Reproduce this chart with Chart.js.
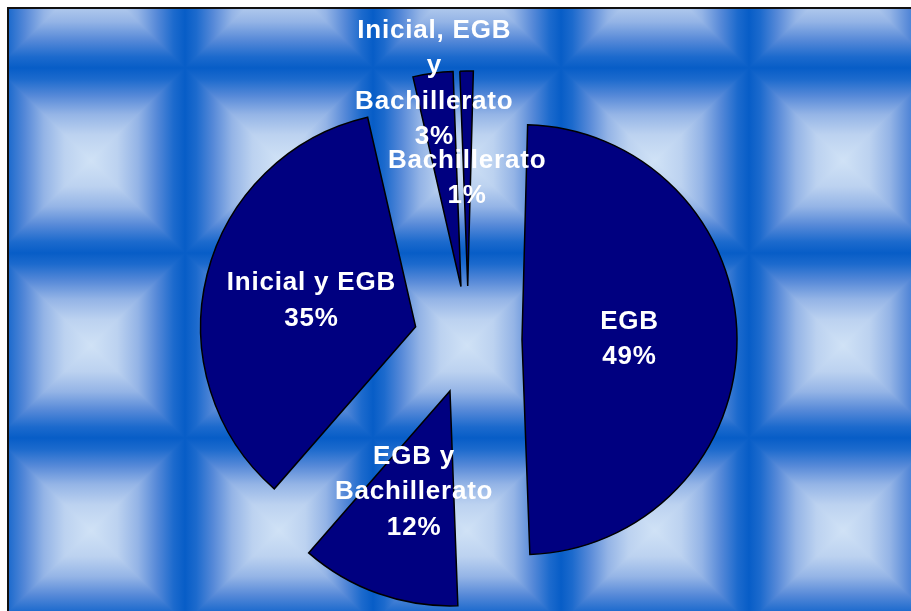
<!DOCTYPE html>
<html>
<head>
<meta charset="utf-8">
<script src="https://cdn.jsdelivr.net/npm/chart.js@4.4.1/dist/chart.umd.min.js"></script>
<style>
  html, body { margin: 0; padding: 0; background: #fff; overflow: hidden; }
  canvas { display: block; }
</style>
</head>
<body>
<canvas id="pie-chart" width="911" height="611"></canvas>
<script>
var categories = ['EGB', 'EGB y Bachillerato', 'Inicial y EGB', 'Inicial, EGB y Bachillerato', 'Bachillerato'];
var shares = [49, 12, 35, 3, 1];
// line breaks used for each category inside its label
var labelLines = [
    ['EGB'],
    ['EGB y', 'Bachillerato'],
    ['Inicial y EGB'],
    ['Inicial, EGB', 'y', 'Bachillerato'],
    ['Bachillerato']
];

var PIE_RADIUS = 215;
var EXPLODE = 54;         // how far every slice is pulled out of the centre
var LINE_HEIGHT = 35.5;
var TILE_W = 188, TILE_H = 185;
// label distance from the slice tip, as a fraction of the radius
var labelDistance = [0.5, 0.5, 0.5, 0.95, 0.5];

var tileStops = [
    [0, '#075dc7'],
    [0.12, '#1c6acd'],
    [0.3, '#5689d8'],
    [0.5, '#94b4e6'],
    [0.72, '#bcd2f0'],
    [1, '#d0e2f6']
];

function tileGradient(ctx, x1, y1, x2, y2) {
    var g = ctx.createLinearGradient(x1, y1, x2, y2);
    tileStops.forEach(function (st) { g.addColorStop(st[0], st[1]); });
    return g;
}

function drawTile(ctx, x0, y0, w, h) {
    var cx = x0 + w / 2, cy = y0 + h / 2;
    // left and right halves first, whole tile
    ctx.fillStyle = tileGradient(ctx, x0, cy, cx, cy);
    ctx.fillRect(x0, y0, w / 2 + 0.5, h);
    ctx.fillStyle = tileGradient(ctx, x0 + w, cy, cx, cy);
    ctx.fillRect(cx, y0, w / 2, h);
    // then the top and bottom triangles over them
    ctx.fillStyle = tileGradient(ctx, cx, y0, cx, cy);
    ctx.beginPath();
    ctx.moveTo(x0, y0);
    ctx.lineTo(x0 + w, y0);
    ctx.lineTo(cx, cy);
    ctx.closePath();
    ctx.fill();
    ctx.fillStyle = tileGradient(ctx, cx, y0 + h, cx, cy);
    ctx.beginPath();
    ctx.moveTo(x0, y0 + h);
    ctx.lineTo(x0 + w, y0 + h);
    ctx.lineTo(cx, cy);
    ctx.closePath();
    ctx.fill();
}

// bevelled blue tiles behind the pie, with the frame line
var tileBackground = {
    id: 'tileBackground',
    beforeDraw: function (chart) {
        var ctx = chart.ctx;
        var left = 9, top = 9, right = chart.width, bottom = chart.height;
        ctx.save();
        ctx.beginPath();
        ctx.rect(left, top, right - left, bottom - top);
        ctx.clip();
        for (var x0 = -3; x0 < right; x0 += TILE_W) {
            for (var y0 = -117; y0 < bottom; y0 += TILE_H) {
                drawTile(ctx, x0, y0, TILE_W, TILE_H);
            }
        }
        ctx.restore();

        ctx.save();
        ctx.strokeStyle = '#111';
        ctx.lineWidth = 2;
        ctx.beginPath();
        ctx.moveTo(8, bottom);
        ctx.lineTo(8, 8);
        ctx.lineTo(right, 8);
        ctx.stroke();
        ctx.restore();
    }
};

// draw each arc pulled outward along its middle angle (exploded pie)
var explodedSlices = {
    id: 'explodedSlices',
    beforeDatasetDraw: function (chart, args) {
        var ctx = chart.ctx;
        args.meta.data.forEach(function (arc) {
            var mid = (arc.startAngle + arc.endAngle) / 2;
            ctx.save();
            ctx.translate(Math.cos(mid) * EXPLODE, Math.sin(mid) * EXPLODE);
            arc.draw(ctx);
            ctx.restore();
        });
        return false;
    }
};

var sliceLabels = {
    id: 'sliceLabels',
    afterDatasetsDraw: function (chart) {
        var ctx = chart.ctx;
        var meta = chart.getDatasetMeta(0);
        var total = shares.reduce(function (a, b) { return a + b; }, 0);
        ctx.save();
        ctx.fillStyle = '#ffffff';
        ctx.font = 'bold 26px "Liberation Sans", Arial, sans-serif';
        ctx.letterSpacing = '0.8px';
        ctx.textAlign = 'center';
        ctx.textBaseline = 'middle';
        meta.data.forEach(function (arc, i) {
            var mid = (arc.startAngle + arc.endAngle) / 2;
            var dist = EXPLODE + PIE_RADIUS * labelDistance[i];
            var x = arc.x + Math.cos(mid) * dist;
            var y = arc.y + Math.sin(mid) * dist;
            var lines = labelLines[i].concat([Math.round(shares[i] / total * 100) + '%']);
            lines.forEach(function (line, j) {
                ctx.fillText(line, x, y + (j - (lines.length - 1) / 2) * LINE_HEIGHT);
            });
        });
        ctx.restore();
    }
};

new Chart(document.getElementById('pie-chart'), {
    type: 'pie',
    data: {
        labels: categories,
        datasets: [{
            data: shares,
            backgroundColor: '#000080',
            borderColor: '#000000',
            borderWidth: 1.5,
            borderJoinStyle: 'miter',
            offset: 0,
            hoverOffset: 0
        }]
    },
    options: {
        responsive: false,
        animation: false,
        rotation: 1.5,
        radius: PIE_RADIUS,
        layout: { padding: { left: 25, top: 69, right: 0, bottom: 0 } },
        plugins: {
            legend: { display: false },
            tooltip: { enabled: false }
        },
        events: []
    },
    plugins: [tileBackground, explodedSlices, sliceLabels]
});
</script>
</body>
</html>
